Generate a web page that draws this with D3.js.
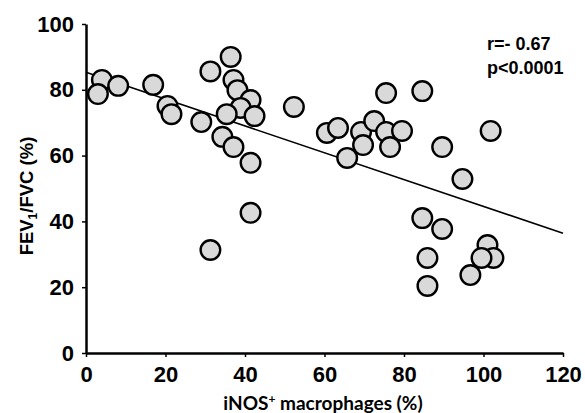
<!DOCTYPE html>
<html>
  <body style="margin:0;background:#fff">
    <style>
      .tick text {
        font-family: 'Liberation Sans', Arial, sans-serif;
        font-weight: bold;
        font-size: 22px;
        fill: #000;
      }
      .lbl {
        font-family: 'Liberation Sans', Arial, sans-serif;
        font-weight: bold;
      }
    </style>
    <div class="chart"></div>
    <script src="https://cdn.jsdelivr.net/npm/d3@7"></script>
    <script type="text/javascript">
      // iNOS+ macrophages (%) vs FEV1/FVC (%)
      const inosPct = [
        4.0, 3.0, 8.1, 16.9, 20.5, 21.5, 29.0, 31.3, 36.4, 37.1, 38.1,
        41.4, 38.9, 42.4, 35.4, 34.3, 37.1, 41.4, 52.3, 60.6, 63.4, 65.7,
        69.2, 69.7, 72.5, 75.5, 84.6, 75.5, 79.5, 76.5, 89.6, 101.8, 94.7,
        41.4, 31.3, 84.6, 89.6, 85.9, 85.9, 101.0, 102.5, 99.5, 96.7,
      ];
      const fevFvc = [
        83.0, 78.7, 81.2, 81.5, 75.1, 72.6, 70.2, 85.6, 90.0, 83.0, 79.9,
        76.9, 74.5, 72.0, 72.6, 65.7, 62.6, 57.8, 74.8, 66.9, 68.4, 59.3,
        67.2, 63.2, 70.5, 79.0, 79.6, 67.2, 67.5, 62.6, 62.6, 67.5, 52.9,
        42.6, 31.3, 41.0, 37.7, 28.9, 20.4, 32.8, 28.9, 28.9, 23.7,
      ];
      const fitX = [0, 120];
      const fitY = [85.3, 36.4];
      const xTicks = [0, 20, 40, 60, 80, 100, 120];
      const yTicks = [0, 20, 40, 60, 80, 100];
      const statLines = ['r=- 0.67', 'p<0.0001'];

      const width = 585;
      const height = 413;

      const x = d3.scaleLinear().domain([0, 120]).range([86, 563]);
      const y = d3.scaleLinear().domain([0, 100]).range([353, 24]);

      const svg = d3
        .select('.chart')
        .append('svg')
        .attr('width', width)
        .attr('height', height);

      // regression line
      svg
        .append('line')
        .attr('x1', x(fitX[0]))
        .attr('y1', y(fitY[0]))
        .attr('x2', x(fitX[1]))
        .attr('y2', y(fitY[1]))
        .attr('stroke', '#000')
        .attr('stroke-width', 1.6);

      const gy = svg
        .append('g')
        .attr('transform', `translate(${x(0)},0)`)
        .call(d3.axisLeft(y).tickValues(yTicks).tickSize(4).tickSizeOuter(0).tickPadding(8));
      const gx = svg
        .append('g')
        .attr('transform', `translate(0,${y(0)})`)
        .call(d3.axisBottom(x).tickValues(xTicks).tickSize(4).tickSizeOuter(0).tickPadding(9));
      [gx, gy].forEach((g) => {
        g.select('.domain').attr('stroke', '#000').attr('stroke-width', 2.5);
        g.selectAll('.tick line').attr('stroke', '#000').attr('stroke-width', 1.5);
      });

      const pts = inosPct.map((v, i) => ({ x: v, y: fevFvc[i] }));
      svg
        .selectAll('circle')
        .data(pts)
        .enter()
        .append('circle')
        .attr('cx', (d) => x(d.x))
        .attr('cy', (d) => y(d.y))
        .attr('r', 9.8)
        .attr('fill', '#d9d9d9')
        .attr('stroke', '#000')
        .attr('stroke-width', 2.4);

      // axis titles
      const yt = svg
        .append('text')
        .attr('class', 'lbl')
        .attr('transform', 'translate(33,196) rotate(-90)')
        .attr('text-anchor', 'middle')
        .attr('font-size', 18.5);
      yt.append('tspan').text('FEV');
      yt.append('tspan').attr('font-size', 12).attr('dy', 4).text('1');
      yt.append('tspan').attr('dy', -4).text('/FVC (%)');

      const xt = svg
        .append('text')
        .attr('x', 323)
        .attr('y', 410)
        .attr('text-anchor', 'middle')
        .attr('font-family', 'Lato, sans-serif')
        .attr('font-weight', 'bold')
        .attr('font-size', 19);
      xt.append('tspan').text('iNOS');
      xt.append('tspan').attr('font-size', 12).attr('dy', -7).text('+');
      xt.append('tspan').attr('dy', 7).text(' macrophages (%)');

      svg
        .selectAll('.stat')
        .data(statLines)
        .enter()
        .append('text')
        .attr('class', 'lbl stat')
        .attr('x', 487)
        .attr('y', (d, i) => 50 + i * 24)
        .attr('font-size', 18)
        .text((d) => d);
    </script>
  </body>
</html>
